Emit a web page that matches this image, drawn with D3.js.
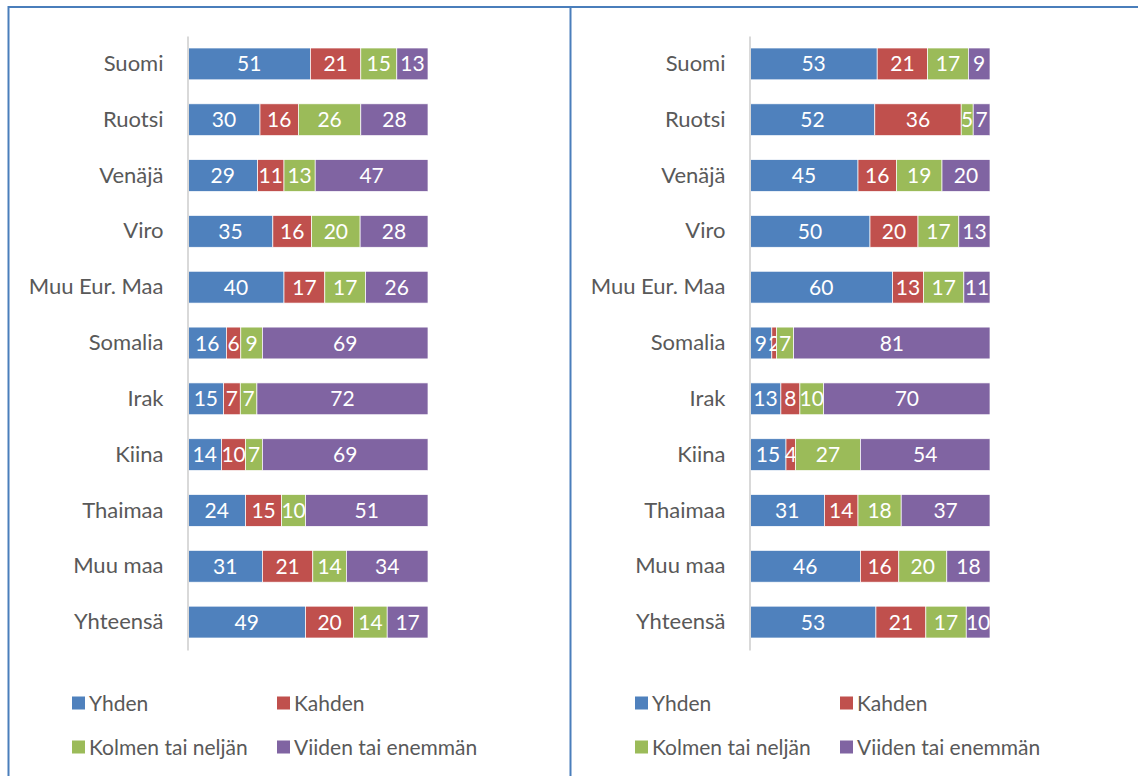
<!DOCTYPE html>
<html><head><meta charset="utf-8">
<script src="https://cdn.jsdelivr.net/npm/d3@7"></script>
<style>body{margin:0;background:#fff}svg{display:block}</style>
</head><body>
<svg id="c" width="1138" height="776"></svg>
<script>
const categories = ["Suomi","Ruotsi","Venäjä","Viro","Muu Eur. Maa","Somalia","Irak","Kiina","Thaimaa","Muu maa","Yhteensä"];
const seriesNames = ["Yhden","Kahden","Kolmen tai neljän","Viiden tai enemmän"];
const colors = ["#4F81BD","#C0504D","#9BBB59","#8064A2"];
const leftYhden   = [51,30,29,35,40,16,15,14,24,31,49];
const leftKahden  = [21,16,11,16,17,6,7,10,15,21,20];
const leftKolmen  = [15,26,13,20,17,9,7,7,10,14,14];
const leftViiden  = [13,28,47,28,26,69,72,69,51,34,17];
const rightYhden  = [53,52,45,50,60,9,13,15,31,46,53];
const rightKahden = [21,36,16,20,13,2,8,4,14,16,21];
const rightKolmen = [17,5,19,17,17,7,10,27,18,20,17];
const rightViiden = [9,7,20,13,11,81,70,54,37,18,10];

const svg = d3.select("#c");
const FONT = "Lato, 'Open Sans', sans-serif";

// panel borders
const border = "#4A7EBB";
svg.append("line").attr("x1",8).attr("x2",1138).attr("y1",7).attr("y2",7).attr("stroke",border).attr("stroke-width",2);
svg.append("line").attr("x1",8.5).attr("x2",8.5).attr("y1",6).attr("y2",776).attr("stroke",border).attr("stroke-width",2);
svg.append("line").attr("x1",570.5).attr("x2",570.5).attr("y1",6).attr("y2",776).attr("stroke",border).attr("stroke-width",2);

function panel(ox, x0, x1, series){
  const g = svg.append("g");
  const rows = categories.map((c,i)=>{
    const o = {cat:c};
    seriesNames.forEach((s,j)=>o[s]=series[j][i]);
    return o;
  });
  const y = d3.scaleBand().domain(categories).range([36,650]).paddingInner(0.43).paddingOuter(0.215);
  const x = d3.scaleLinear().domain([0,1]).range([x0,x1]);
  const stack = d3.stack().keys(seriesNames).offset(d3.stackOffsetExpand);
  const layers = stack(rows);
  layers.forEach((layer,j)=>{
    const lg = g.append("g");
    lg.selectAll("rect").data(layer).join("rect")
      .attr("x",d=>x(d[0])).attr("width",d=>x(d[1])-x(d[0]))
      .attr("y",d=>y(d.data.cat)).attr("height",y.bandwidth())
      .attr("fill",colors[j]).attr("stroke","#fff").attr("stroke-width",0.7);
    lg.selectAll("text").data(layer).join("text")
      .attr("x",d=>(x(d[0])+x(d[1]))/2).attr("y",d=>y(d.data.cat)+y.bandwidth()/2)
      .attr("dy","0.36em").attr("text-anchor","middle")
      .attr("fill","#fff").attr("font-family",FONT).attr("font-size",21)
      .text(d=>d.data[seriesNames[j]]);
  });
  // axis
  const ax = d3.axisLeft(y).tickSize(0).tickPadding(24);
  const axg = g.append("g").attr("transform",`translate(${x0-0.5},0)`).call(ax);
  axg.select(".domain").attr("stroke","#D9D9D9").attr("stroke-width",2);
  axg.selectAll("text").attr("font-family",FONT).attr("font-size",22).attr("fill","#595959");
  // legend
  const lx = [ox, ox+205];
  const ly = [703, 747];
  seriesNames.forEach((s,j)=>{
    const cx = lx[j%2], cy = ly[Math.floor(j/2)];
    g.append("rect").attr("x",cx).attr("y",cy-6.5).attr("width",13).attr("height",13).attr("fill",colors[j]);
    g.append("text").attr("x",cx+17).attr("y",cy).attr("dy","0.36em")
      .attr("font-family",FONT).attr("font-size",21).attr("fill","#595959").text(s);
  });
}
panel(72, 188, 428, [leftYhden,leftKahden,leftKolmen,leftViiden]);
panel(635, 750, 990, [rightYhden,rightKahden,rightKolmen,rightViiden]);
</script>
</body></html>
